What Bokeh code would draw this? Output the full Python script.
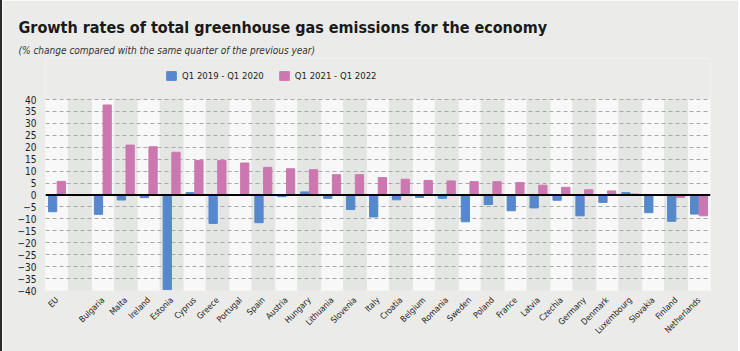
import math
from bokeh.plotting import figure
from bokeh.models import (FactorRange, Range1d, FixedTicker, Span, Legend,
                          LegendItem, Title, Label, ColumnDataSource)
from bokeh.transform import dodge
from bokeh.embed import file_html
from bokeh.resources import INLINE

countries = ["EU", "Bulgaria", "Malta", "Ireland", "Estonia", "Cyprus", "Greece",
             "Portugal", "Spain", "Austria", "Hungary", "Lithuania", "Slovenia",
             "Italy", "Croatia", "Belgium", "Romania", "Sweden", "Poland", "France",
             "Latvia", "Czechia", "Germany", "Denmark", "Luxembourg", "Slovakia",
             "Finland", "Netherlands"]
q1_2019_2020 = [-7.0, -8.1, -2.1, -1.1, -39.6, 1.0, -11.9, -0.2, -11.6, -0.7, 1.3,
                -1.4, -6.1, -9.2, -2.0, -1.0, -1.4, -11.2, -4.0, -6.6, -5.4, -2.2,
                -8.7, -3.1, 1.0, -7.4, -11.0, -8.0]
q1_2021_2022 = [5.7, 37.7, 20.9, 20.2, 17.9, 14.4, 14.4, 13.4, 11.6, 11.0, 10.6,
                8.5, 8.5, 7.3, 6.6, 6.1, 5.9, 5.6, 5.6, 5.2, 4.1, 3.2, 2.2, 1.7,
                0.4, -0.1, -1.0, -8.7]
series_labels = ["Q1 2019 - Q1 2020", "Q1 2021 - Q1 2022"]
y_ticks = list(range(-40, 45, 5))
y_min, y_max = -40, 40
gap = " "
factors = [countries[0], gap] + countries[1:]

FONT = "DejaVu Sans Condensed"
BLUE = "#5588cc"
PINK = "#cc77b0"
BG = "#ebecea"

# frame extends above the data area to host the legend
frame_top_px, data_top_px, data_bottom_px = 58, 99, 290
px_per_unit = (data_bottom_px - data_top_px) / (y_max - y_min)
y_end = y_max + (data_top_px - frame_top_px) / px_per_unit

p = figure(width=738, height=351, x_range=FactorRange(*factors),
           y_range=Range1d(y_min, y_end), output_backend="svg",
           toolbar_location=None,
           min_border_left=43, min_border_right=30, min_border_bottom=61,
           min_border_top=frame_top_px, background_fill_color=BG,
           border_fill_color=BG, outline_line_color=None,
           styles={"border-left": "2px solid #2a2a2a"})

# alternating stripes across the data area
p.vbar(x=factors[0::2], top=y_max, bottom=y_min, width=1.0, color="#f8f8f8",
       level="image")
p.vbar(x=factors[1::2], top=y_max, bottom=y_min, width=1.0, color="#e4e6e4",
       level="image")

src = ColumnDataSource(dict(country=countries, a=q1_2019_2020, b=q1_2021_2022))
r1 = p.vbar(x=dodge("country", -0.19, range=p.x_range), top="a", width=0.36,
            source=src, color=BLUE)
r2 = p.vbar(x=dodge("country", 0.19, range=p.x_range), top="b", width=0.36,
            source=src, color=PINK)

p.add_layout(Span(location=0, dimension="width", line_color="black",
                  line_width=2))

p.ygrid.ticker = FixedTicker(ticks=y_ticks)
p.ygrid.grid_line_color = "#a8a8a8"
p.ygrid.grid_line_dash = "4 3"
p.xgrid.grid_line_color = None

p.yaxis.ticker = FixedTicker(ticks=y_ticks)
p.yaxis.axis_line_color = None
p.yaxis.major_tick_line_color = None
p.yaxis.minor_tick_line_color = None
p.yaxis.major_label_text_font = FONT
p.yaxis.major_label_text_font_size = "10px"
p.yaxis.major_label_text_color = "#222222"
p.yaxis.major_label_standoff = 3

p.xaxis.axis_line_color = None
p.xaxis.major_tick_line_color = None
p.xaxis.major_label_orientation = math.pi / 4
p.xaxis.major_label_text_font = FONT
p.xaxis.major_label_text_font_size = "8.5px"
p.xaxis.major_label_text_color = "#222222"
p.xaxis.major_label_standoff = 2
p.xaxis.major_label_overrides = {"EU": ""}

eu_x = factors.index("EU") + 0.5  # synthetic coordinate of the EU factor centre
p.add_layout(Label(x=eu_x, y=y_min, y_offset=-7, x_offset=6, text="EU",
                   angle=math.pi / 4, text_align="right",
                   text_baseline="middle", text_font=FONT,
                   text_font_style="bold", text_font_size="11px",
                   text_color="#111111"))

legend_center_px = 70
legend_box_h = 21
legend_y = (data_bottom_px - legend_center_px) - legend_box_h / 2
legend = Legend(items=[LegendItem(label=series_labels[0], renderers=[r1]),
                       LegendItem(label=series_labels[1], renderers=[r2])],
                orientation="horizontal", location=(120, legend_y),
                background_fill_alpha=0, border_line_color=None,
                label_text_font=FONT, label_text_font_size="9.5px",
                label_text_color="#222222", glyph_width=12, glyph_height=11,
                spacing=14, padding=4, margin=0, label_standoff=5)
p.add_layout(legend, "center")

p.add_layout(Title(text="(% change compared with the same quarter of the previous year)",
                   text_font=FONT, text_font_style="italic", text_font_size="10px",
                   text_color="#333333", align="left", offset=-27, standoff=6), "above")
p.add_layout(Title(text="Growth rates of total greenhouse gas emissions for the economy",
                   text_font=FONT, text_font_style="bold", text_font_size="16px",
                   text_color="#1a1a1a", align="left", offset=-27, standoff=6), "above")

open("out.html", "w").write(file_html(p, INLINE))
